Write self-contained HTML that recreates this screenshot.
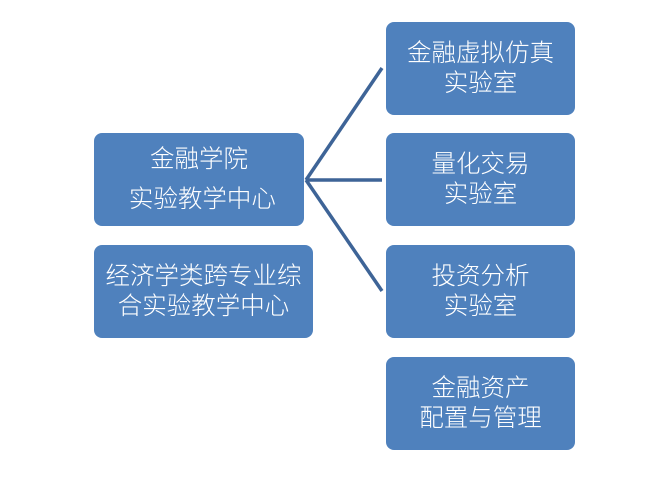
<!DOCTYPE html>
<html><head><meta charset="utf-8"><style>
body{margin:0;width:669px;height:481px;background:#fff;position:relative;overflow:hidden;font-family:"Liberation Sans","Noto Sans CJK SC",sans-serif}
.b{position:absolute;background:#4f81bd;border-radius:8px;color:#fff;font-size:24.5px;line-height:30px;text-align:center;display:flex;flex-direction:column;justify-content:center;align-items:center;font-weight:300}
</style></head><body>
<svg width="669" height="481" style="position:absolute;left:0;top:0">
<g stroke="#3e6497" stroke-width="3.5" fill="none">
<line x1="306" y1="180" x2="382" y2="68"/>
<line x1="306" y1="180" x2="382" y2="180"/>
<line x1="306" y1="180" x2="382" y2="291"/>
</g></svg>
<div class="b" style="left:94px;top:133px;width:210px;height:93px"><div>金融学院</div><div style="margin-top:10px">&nbsp;实验教学中心</div></div>
<div class="b" style="left:94px;top:245px;width:219px;height:93px"><div>经济学类跨专业综</div><div>合实验教学中心</div></div>
<div class="b" style="left:386px;top:22px;width:189px;height:93px"><div>金融虚拟仿真</div><div>实验室</div></div>
<div class="b" style="left:386px;top:133px;width:189px;height:93px"><div>量化交易</div><div>实验室</div></div>
<div class="b" style="left:386px;top:245px;width:189px;height:93px"><div>投资分析</div><div>实验室</div></div>
<div class="b" style="left:386px;top:357px;width:189px;height:93px"><div>金融资产</div><div>配置与管理</div></div>
</body></html>
